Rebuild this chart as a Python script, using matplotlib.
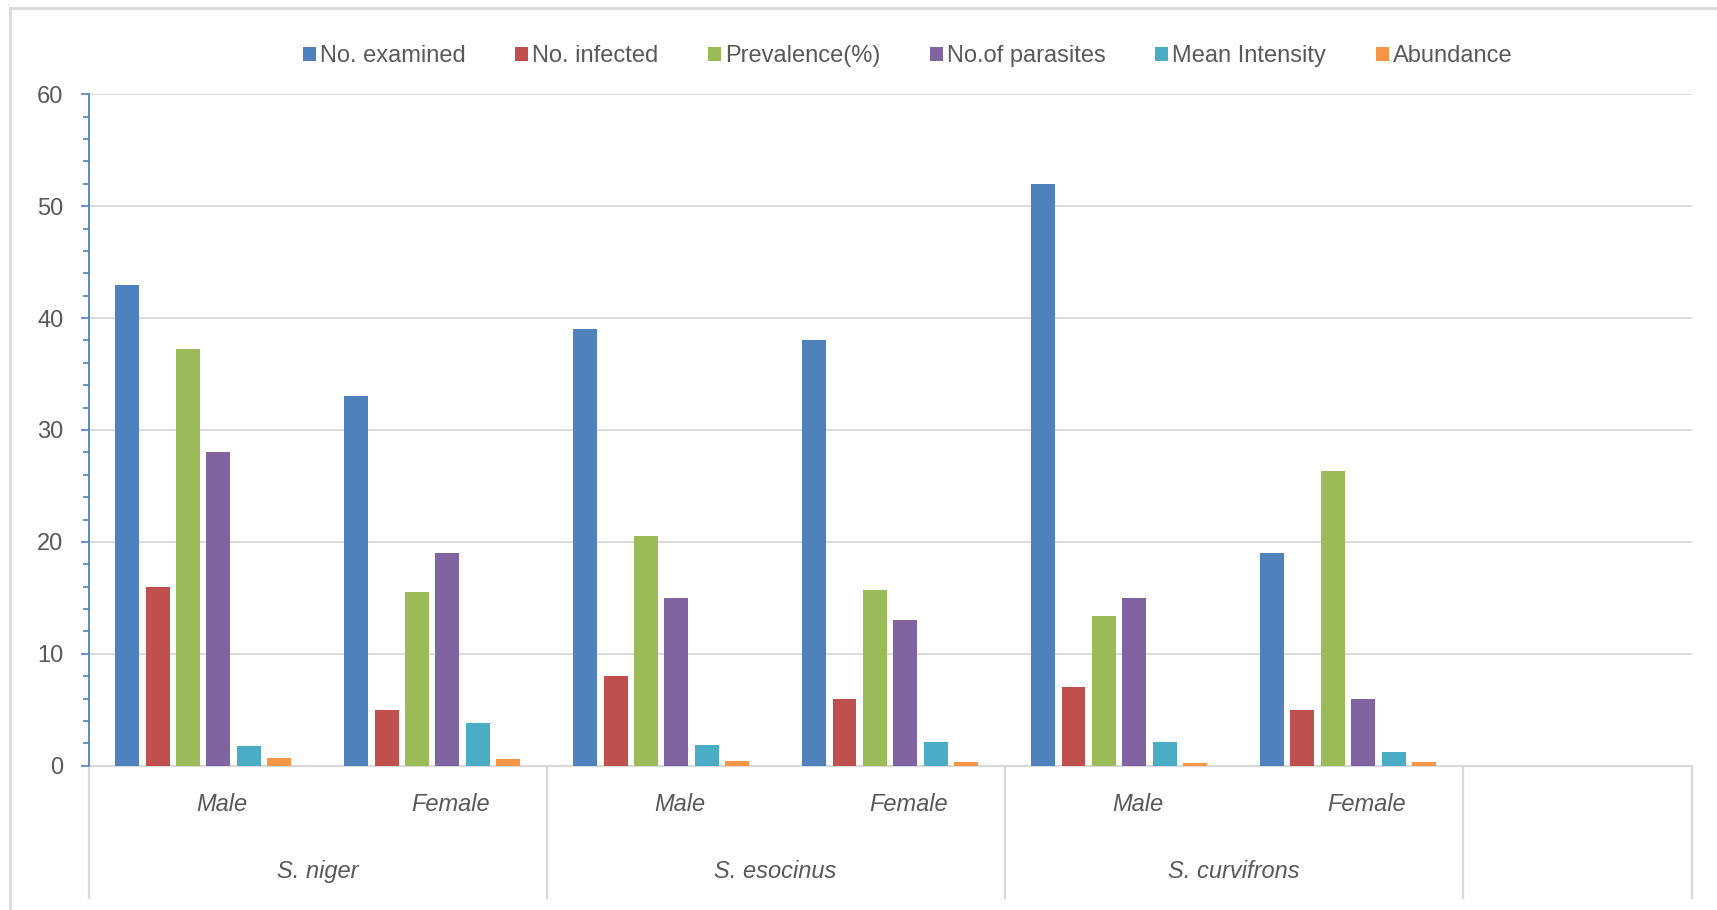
import numpy as np
import matplotlib.pyplot as plt
from matplotlib.lines import Line2D
from matplotlib.patches import Patch

plt.rcParams.update({
    "font.family": ["Liberation Sans", "DejaVu Sans"],
    "font.size": 17,
    "text.color": "#595959",
})

# ---------------------------------------------------------
#  Data
# ---------------------------------------------------------
sexes = ["Male", "Female", "Male", "Female", "Male", "Female"]
species = ["S. niger", "S. esocinus", "S. curvifrons"]
series_names = ["No. examined", "No. infected", "Prevalence(%)",
                "No.of parasites", "Mean Intensity", "Abundance"]

examined = [43, 33, 39, 38, 52, 19]
infected = [16, 5, 8, 6, 7, 5]
prevalence = [37.2, 15.5, 20.5, 15.7, 13.4, 26.3]
parasites = [28, 19, 15, 13, 15, 6]
mean_intensity = [1.75, 3.8, 1.85, 2.15, 2.1, 1.2]
abundance = [0.65, 0.58, 0.38, 0.34, 0.27, 0.30]

colors = ["#4F81BD", "#C0504D", "#9BBB59", "#8064A2", "#4BACC6", "#F79646"]
series = [examined, infected, prevalence, parasites, mean_intensity, abundance]

GRID = "#D9D9D9"
AXIS_BLUE = "#4F81BD"
TEXT = "#595959"

# ---------------------------------------------------------
#  Figure / axes
# ---------------------------------------------------------
W, H = 1717, 910
fig = plt.figure(figsize=(W / 100, H / 100), dpi=100)
ax = fig.add_axes([88.6 / W, (H - 765.7) / H,
                   (1691.5 - 88.6) / W, (765.7 - 94.3) / H])

n_slots = 7  # one empty slot at the end of the category axis
x = np.arange(len(sexes))
pitch = 0.1326
width = 0.1047
for j, (vals, c, name) in enumerate(zip(series, colors, series_names)):
    ax.bar(x + (j - 2.5) * pitch, vals, width=width, color=c,
           label=name, zorder=3, linewidth=0)

ax.set_xlim(-0.5, n_slots - 0.5)
ax.set_ylim(0, 60)
ax.set_yticks(np.arange(0, 61, 10))
ax.set_yticks(np.arange(0, 61, 2), minor=True)
ax.yaxis.grid(True, which="major", color=GRID, lw=1.3, zorder=0)
ax.set_xticks([])

for s in ["top", "right"]:
    ax.spines[s].set_visible(False)
ax.spines["left"].set_color(AXIS_BLUE)
ax.spines["left"].set_linewidth(1.3)
ax.spines["left"].set_zorder(4)
ax.spines["bottom"].set_color(GRID)
ax.spines["bottom"].set_linewidth(1.6)

ax.tick_params(axis="y", which="major", direction="out", length=6,
               width=1.2, color=AXIS_BLUE, labelcolor=TEXT, labelsize=17, pad=12)
ax.tick_params(axis="y", which="minor", direction="out", length=4,
               width=1.2, color=AXIS_BLUE)

# ---------------------------------------------------------
#  Two-level category axis
# ---------------------------------------------------------
trans = ax.get_xaxis_transform()
sep_bottom = -(898 - 765.7) / (765.7 - 94.3)
for xs in [-0.5, 1.5, 3.5, 5.5, 6.5]:
    ax.plot([xs, xs], [0, sep_bottom], transform=trans, color=GRID,
            lw=1.6, clip_on=False, zorder=1)

for i, lab in enumerate(sexes):
    ax.text(i + 0.08, -0.058, lab, transform=trans, ha="center", va="center",
            fontsize=17, style="italic", color=TEXT)

for k, sp in enumerate(species):
    ax.text(2 * k + 0.5, -0.158, sp, transform=trans, ha="center",
            va="center", fontsize=17, style="italic", color=TEXT)

# ---------------------------------------------------------
#  Legend across the top
# ---------------------------------------------------------
handles = [Patch(facecolor=c, edgecolor="none") for c in colors]
fig.legend(handles, series_names, loc="center", ncol=6,
           bbox_to_anchor=(907.5 / W, 1 - 56 / H), frameon=False,
           fontsize=17, labelcolor=TEXT, handlelength=0.55,
           handleheight=0.55, handletextpad=0.17, columnspacing=2.1,
           borderpad=0, borderaxespad=0)

# ---------------------------------------------------------
#  Chart-area border (left and top edges visible)
# ---------------------------------------------------------
fig.add_artist(Line2D([9.5 / W, 9.5 / W], [0, 1 - 7.5 / H],
                      transform=fig.transFigure, color=GRID, lw=2))
fig.add_artist(Line2D([9.5 / W, 1], [1 - 7.5 / H, 1 - 7.5 / H],
                      transform=fig.transFigure, color=GRID, lw=2))

fig.savefig("out.png", dpi=100, facecolor="white")
